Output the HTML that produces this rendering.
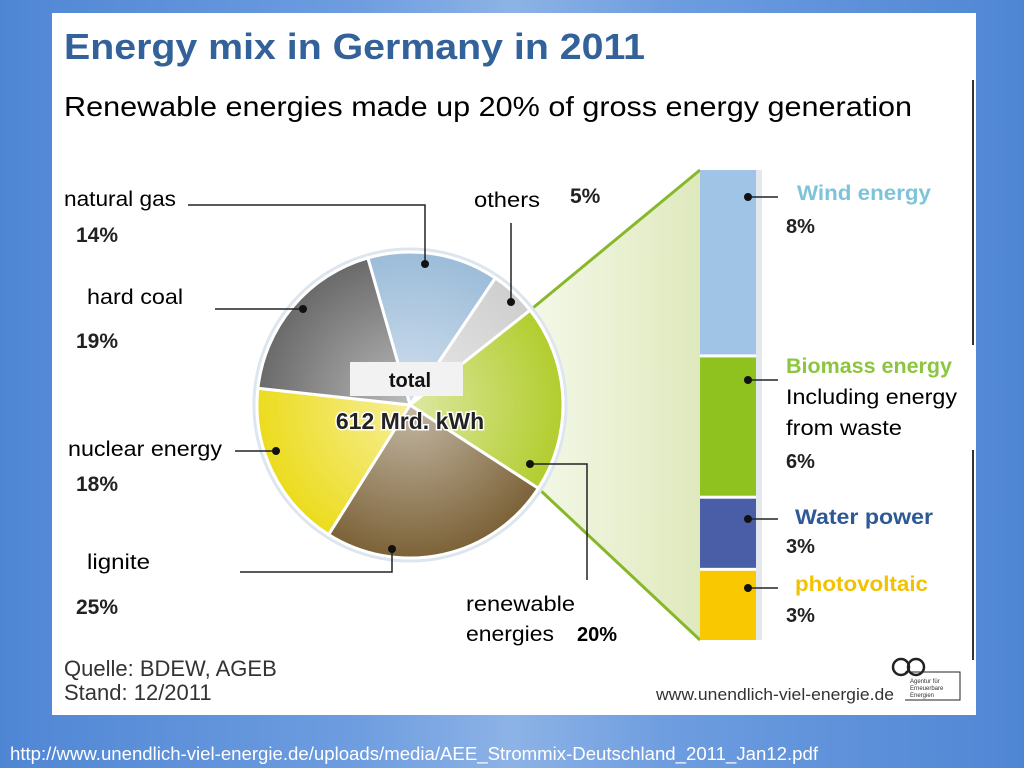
<!DOCTYPE html>
<html><head><meta charset="utf-8"><style>
html,body{margin:0;padding:0;width:1024px;height:768px;overflow:hidden}
body{background:linear-gradient(90deg,#4f86d4 0%,#6e9de0 35%,#8db3e6 50%,#6e9de0 65%,#4f86d4 100%);font-family:"Liberation Sans",sans-serif;position:relative}
#panel{position:absolute;left:52px;top:13px;width:924px;height:702px;background:#fff}
svg{position:absolute;left:0;top:0}
</style></head><body>
<div id="panel"></div>
<svg id="chart" width="1024" height="768">
<defs>
<linearGradient id="trap" x1="0" x2="1"><stop offset="0" stop-color="#f4f8e8"/><stop offset="1" stop-color="#dfe9bd"/></linearGradient>
<radialGradient id="shade" cx="0.5" cy="0.5" r="0.5"><stop offset="0" stop-color="#fff" stop-opacity="0.55"/><stop offset="1" stop-color="#fff" stop-opacity="0"/></radialGradient>
</defs>
<text x="64" y="59" font-family="Liberation Sans" font-weight="bold" font-size="36" fill="#33619a" textLength="581" lengthAdjust="spacingAndGlyphs">Energy mix in Germany in 2011</text>
<text x="64" y="116" font-size="28" fill="#000" textLength="848" lengthAdjust="spacingAndGlyphs">Renewable energies made up 20% of gross energy generation</text>
<line x1="973" y1="80" x2="973" y2="345" stroke="#333" stroke-width="2"/>
<line x1="973" y1="450" x2="973" y2="660" stroke="#333" stroke-width="2"/>
<g id="trapg"></g>
<g id="pie"></g>
<g id="bar"></g>
<g id="labels" font-size="21" fill="#000">
<text x="64" y="206" textLength="112" lengthAdjust="spacingAndGlyphs">natural gas</text>
<text x="76" y="242" font-weight="bold" fill="#222">14%</text>
<text x="87" y="304" textLength="96" lengthAdjust="spacingAndGlyphs">hard coal</text>
<text x="76" y="348" font-weight="bold" fill="#222">19%</text>
<text x="68" y="456" textLength="154" lengthAdjust="spacingAndGlyphs">nuclear energy</text>
<text x="76" y="491" font-weight="bold" fill="#222">18%</text>
<text x="87" y="569" textLength="63" lengthAdjust="spacingAndGlyphs">lignite</text>
<text x="76" y="614" font-weight="bold" fill="#222">25%</text>
<text x="474" y="207" textLength="66" lengthAdjust="spacingAndGlyphs">others</text>
<text x="570" y="203" font-weight="bold" fill="#222">5%</text>
<text x="466" y="611" textLength="109" lengthAdjust="spacingAndGlyphs">renewable</text>
<text x="466" y="641" textLength="88" lengthAdjust="spacingAndGlyphs">energies</text>
<text x="577" y="641" font-weight="bold" font-size="20">20%</text>
<text x="797" y="200" font-weight="bold" fill="#7ec4d8" textLength="134" lengthAdjust="spacingAndGlyphs">Wind energy</text>
<text x="786" y="233" font-weight="bold" fill="#222" font-size="20">8%</text>
<text x="786" y="373" font-weight="bold" fill="#8cc63f" textLength="166" lengthAdjust="spacingAndGlyphs">Biomass energy</text>
<text x="786" y="404" textLength="171" lengthAdjust="spacingAndGlyphs">Including energy</text>
<text x="786" y="435" textLength="116" lengthAdjust="spacingAndGlyphs">from waste</text>
<text x="786" y="468" font-weight="bold" fill="#222" font-size="20">6%</text>
<text x="795" y="524" font-weight="bold" fill="#2d5a96" textLength="138" lengthAdjust="spacingAndGlyphs">Water power</text>
<text x="786" y="553" font-weight="bold" fill="#222" font-size="20">3%</text>
<text x="795" y="591" font-weight="bold" fill="#f2c200" textLength="133" lengthAdjust="spacingAndGlyphs">photovoltaic</text>
<text x="786" y="622" font-weight="bold" fill="#222" font-size="20">3%</text>
</g>
<g stroke="#222" stroke-width="1.5" fill="none">
<polyline points="188,205 425,205 425,264"/>
<polyline points="215,309 303,309"/>
<polyline points="235,451 276,451"/>
<polyline points="240,572 392,572 392,549"/>
<polyline points="511,223 511,302"/>
<polyline points="530,464 587,464 587,580"/>
<polyline points="748,197 778,197"/><polyline points="748,380 778,380"/><polyline points="748,519 778,519"/><polyline points="748,588 778,588"/>
</g>
<g fill="#111"><circle cx="425" cy="264" r="4"/><circle cx="303" cy="309" r="4"/><circle cx="276" cy="451" r="4"/><circle cx="392" cy="549" r="4"/><circle cx="511" cy="302" r="4"/><circle cx="530" cy="464" r="4"/>
<circle cx="748" cy="197" r="4"/><circle cx="748" cy="380" r="4"/><circle cx="748" cy="519" r="4"/><circle cx="748" cy="588" r="4"/></g>
<rect x="350" y="362" width="113" height="34" fill="#f2f2f2"/>
<text x="410" y="387" text-anchor="middle" font-weight="bold" font-size="20" fill="#111">total</text>
<text x="410" y="429" text-anchor="middle" font-weight="bold" font-size="23" fill="#222" stroke="#fff" stroke-width="3" paint-order="stroke">612 Mrd. kWh</text>
<text x="64" y="676" font-size="22" fill="#333">Quelle: BDEW, AGEB</text>
<text x="64" y="700" font-size="22" fill="#333">Stand: 12/2011</text>
<text x="656" y="700" font-size="17" fill="#333" textLength="238" lengthAdjust="spacingAndGlyphs">www.unendlich-viel-energie.de</text>
<g stroke="#222" stroke-width="2.5" fill="none"><circle cx="901" cy="667" r="8"/><circle cx="916" cy="667" r="8"/><path d="M905 672 H960 V700 H905" stroke-width="1"/></g>
<text x="910" y="683" font-size="6" fill="#333">Agentur für</text><text x="910" y="690" font-size="6" fill="#333">Erneuerbare</text><text x="910" y="697" font-size="6" fill="#333">Energien</text>
<text x="10" y="760" font-size="18" fill="#fff" textLength="808" lengthAdjust="spacingAndGlyphs">http://www.unendlich-viel-energie.de/uploads/media/AEE_Strommix-Deutschland_2011_Jan12.pdf</text>
</svg>
<script>
const pieCategories=["natural gas","others","renewables","lignite","nuclear","hard coal"];
const pieValues=[14,5,20,25,18,19];
const pieColors=["#9cbcd9","#cfcfcf","#b2cd2e","#7c6238","#ecdc1e","#6a6a6a"];
const barCategories=["wind","biomass","water","photovoltaic"];
const barValues=[8,6,3,3];
const barColors=["#9fc4e6","#8fc21e","#4a5ea8","#f9c800"];
const NS="http://www.w3.org/2000/svg";
const cx=410,cy=405,R=153,start=-16;
const total=pieValues.reduce((a,b)=>a+b,0);
function ang(v){return start+v/total*360;}
function pt(a,r){const t=a*Math.PI/180;return [cx+r*Math.sin(t),cy-r*Math.cos(t)];}
const pie=document.getElementById('pie');
const bg=document.createElementNS(NS,'circle');
bg.setAttribute('cx',cx);bg.setAttribute('cy',cy);bg.setAttribute('r',R+3);bg.setAttribute('fill','#fff');bg.setAttribute('stroke','#dde6ee');bg.setAttribute('stroke-width','3');


pie.appendChild(bg);
let acc=0,renA0=0,renA1=0;
pieValues.forEach((v,i)=>{
  const a0=ang(acc),a1=ang(acc+v);acc+=v;
  if(pieCategories[i]==="renewables"){renA0=a0;renA1=a1;}
  const p0=pt(a0,R),p1=pt(a1,R);
  const p=document.createElementNS(NS,'path');
  p.setAttribute('d',`M${cx},${cy} L${p0[0]},${p0[1]} A${R},${R} 0 ${(a1-a0)>180?1:0} 1 ${p1[0]},${p1[1]} Z`);
  p.setAttribute('fill',pieColors[i]);p.setAttribute('stroke','#fff');p.setAttribute('stroke-width','3');
  
  
  pie.appendChild(p);
});
const hl=document.createElementNS(NS,'circle');
hl.setAttribute('cx',cx);hl.setAttribute('cy',cy);hl.setAttribute('r',R);hl.setAttribute('fill','url(#shade)');


pie.appendChild(hl);
const barTop=170,pxPer=23.05,gap=3,bx=700,bw=56;
const bar=document.getElementById('bar');
let y=barTop;
barValues.forEach((v,i)=>{
  const h=v*pxPer;
  const r=document.createElementNS(NS,'rect');
  r.setAttribute('x',bx);r.setAttribute('y',y);r.setAttribute('width',bw);r.setAttribute('height',h);r.setAttribute('fill',barColors[i]);
  
  
  bar.appendChild(r);y+=h+gap;
});
const barBottom=y-gap;
const sh=document.createElementNS(NS,'rect');
sh.setAttribute('x',bx+bw);sh.setAttribute('y',barTop);sh.setAttribute('width',6);sh.setAttribute('height',barBottom-barTop);sh.setAttribute('fill','#e3e8ee');


bar.appendChild(sh);
const q0=pt(renA0,R),q1=pt(renA1,R);
const tg=document.getElementById('trapg');
const tp=document.createElementNS(NS,'path');
tp.setAttribute('d',`M${q0[0]},${q0[1]} L${bx},${barTop} L${bx},${barBottom} L${q1[0]},${q1[1]} Z`);
tp.setAttribute('fill','url(#trap)');


tg.appendChild(tp);
[[q0,barTop],[q1,barBottom]].forEach(([q,yy])=>{
  const l=document.createElementNS(NS,'line');
  l.setAttribute('x1',q[0]);l.setAttribute('y1',q[1]);l.setAttribute('x2',bx);l.setAttribute('y2',yy);l.setAttribute('stroke','#86b82a');l.setAttribute('stroke-width','3');
  
  
  tg.appendChild(l);
});
</script>
</body></html>
